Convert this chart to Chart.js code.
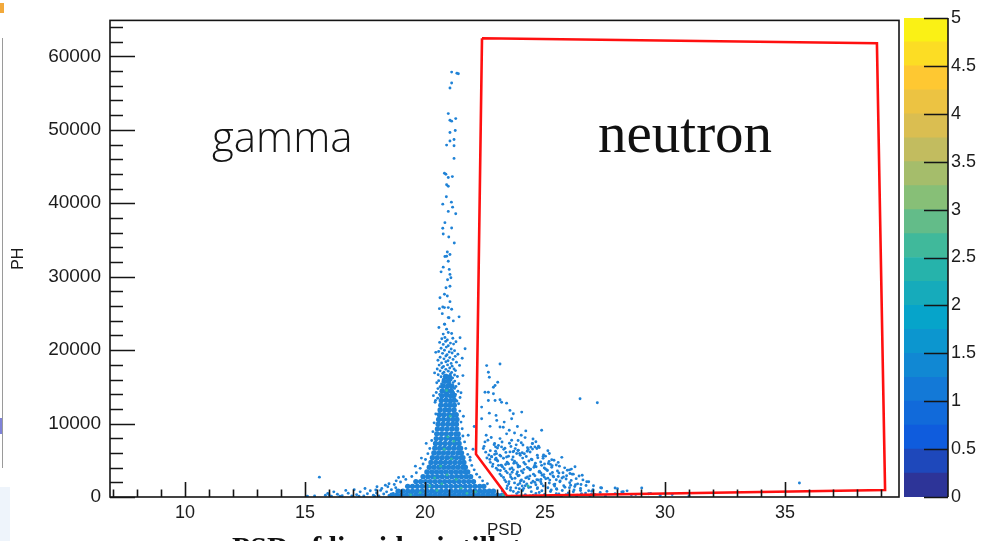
<!DOCTYPE html>
<html><head><meta charset="utf-8">
<script src="https://cdn.jsdelivr.net/npm/chart.js@4.4.1/dist/chart.umd.min.js"></script>
<style>
html,body{margin:0;padding:0;background:#fff;}
#wrap{position:relative;width:984px;height:541px;overflow:hidden;background:#fff;}
canvas{position:absolute;top:0;}
#main{left:0;}
#pal{left:900px;}
.lbl{position:absolute;white-space:nowrap;line-height:1;color:#111;}
#gamma{left:212px;top:115px;font-family:"Open Sans",sans-serif;font-weight:300;font-size:42px;color:#151515;}
#neutron{left:598px;top:104px;font-family:"Liberation Serif",serif;font-size:57px;}
#caption{left:232px;top:532px;font-family:"Liberation Serif",serif;font-weight:bold;font-size:30px;}
.art{position:absolute;}
</style></head><body>
<div id="wrap">
<canvas id="main" width="984" height="541"></canvas>
<canvas id="pal" width="84" height="541"></canvas>
<div class="lbl" id="gamma">gamma</div>
<div class="lbl" id="neutron">neutron</div>
<div class="lbl" id="caption">PSD of liquid scintillator</div>
<div class="art" style="left:0;top:38px;width:2px;height:430px;border-right:1px solid #9a9a9a;"></div>
<div class="art" style="left:0;top:418px;width:2px;height:16px;background:#7f82d8;"></div>
<div class="art" style="left:0;top:3px;width:4px;height:10px;background:#f2a93b;"></div>
<div class="art" style="left:0;top:487px;width:10px;height:54px;background:#eef4fb;"></div>
</div>
<script>
// ---------------- data ----------------
const xTickLabels = [10, 15, 20, 25, 30, 35];
const yTickLabels = [0, 10000, 20000, 30000, 40000, 50000, 60000];
const colorTickLabels = [0, 0.5, 1, 1.5, 2, 2.5, 3, 3.5, 4, 4.5, 5];

// neutron selection cut (red polygon)
const cutX = [22.375, 38.83, 39.17, 23.42, 22.125, 22.375];
const cutY = [62470, 61790, 950, 135, 5830, 62470];

// gamma band, upper tail
const gammaTail = [
[21.11,57860],[21.39,57630],[21.33,57700],[21.11,56370],[21.04,55690],
[20.97,52210],[21.04,51310],[21.11,51180],[21.28,51530],[21.04,49630],[21.26,49910],
[20.90,47920],[21.04,48470],[21.21,48690],[21.21,47830],[21.21,46110],
[20.81,44080],[20.87,43950],[20.97,43500],[21.14,43630],
[20.90,42510],[20.97,42320],[20.89,40880],[20.74,39880],[21.10,40150],[21.15,39470],[20.97,38890],[21.28,38580],
[20.83,37360],[20.74,36590],[21.11,36630],[20.76,35810],[20.99,35410],[21.22,34590],[20.93,33370],[20.83,32750],
[21.04,33020],[20.97,32110],[20.76,31300],[20.67,30660],[21.01,30990],[20.94,29580],[21.08,29850],[20.875,28500],
[20.625,27140],[20.81,27600],[20.93,27370],[21.04,26600],[20.60,25650],[20.81,25790],[20.97,25790],[21.11,25570],
[20.72,24970],[20.97,24430],[21.18,23980],[21.42,24530],[20.58,23080],[20.81,23540],[20.90,22860],[20.76,22180],
[20.97,22400],[21.11,22260],[20.83,21720],[21.04,28700],[20.90,32790],[21.04,30310],[20.74,25880],[21.00,24400],[20.82,23530]
];

// gamma band, middle part
const gammaMid = [
[20.70,21550],[20.93,21380],[21.16,21620],
[20.61,21050],[20.86,21190],[21.06,20960],[21.29,21140],
[20.76,20780],[20.97,20590],[21.19,20820],
[20.67,20250],[20.89,20410],[21.09,20160],
[20.57,19820],[20.81,19990],[21.01,19760],[21.23,19930],
[20.73,19560],[20.92,19380],[21.13,19610],[21.37,19440],
[20.63,19040],[20.87,19210],[21.03,18980],[21.26,19150],
[20.54,18620],[20.79,18810],[20.96,18560],[21.17,18740],
[20.69,18240],[20.87,18420],[21.09,18190],[21.31,18360],
[20.59,17960],[20.77,17780],[20.94,17990],[21.13,17820],[21.44,17920],
[20.51,17440],[20.71,17610],[20.87,17380],[21.03,17560],[21.21,17420],
[20.63,17180],[20.79,16990],[20.97,17140],[21.11,16960],[21.27,17210],
[20.55,16640],[20.74,16810],[20.89,16590],[21.06,16760],[21.23,16620],
[20.67,16380],[20.83,16190],[21.01,16340],[21.15,16220],[21.35,16410],
[20.57,15840],[20.76,16010],[20.91,15820],[21.09,15970],[21.24,15780],
[20.49,15560],[20.69,15390],[20.85,15610],[21.03,15440],[21.17,15580],[21.41,15420],
[20.63,15020],[20.79,15180],[20.97,14990],[21.13,15160],[21.29,15040],
[20.54,14760],[20.73,14620],[20.89,14810],[21.07,14640],[21.23,14790],
[20.47,14240],[20.67,14380],[20.83,14210],[21.01,14360],[21.19,14230],[21.37,14400],
[20.61,13960],[20.77,13820],[20.95,13990],[21.11,13840],[21.27,13970],
[20.53,13440],[20.71,13590],[20.87,13420],[21.05,13570],[21.21,13460],[21.46,13540],
[20.44,13160],[20.65,13040],[20.81,13190],[20.99,13060],[21.15,13200],[21.33,13080]
];

// gamma band, dense core (merged marks)
const gammaCore = [
[20.86,16400],[21.02,16350],
[20.80,15750],[20.98,15800],
[20.75,15100],[20.95,15150],[21.12,15080],
[20.72,14450],[20.92,14500],[21.10,14420],
[20.70,13800],[20.90,13850],[21.08,13780],[21.20,13820],
[20.68,13150],[20.88,13180],[21.06,13120],[21.22,13160],
[20.66,12500],[20.86,12500],[21.04,12500],[21.22,12500],
[20.63,11850],[20.83,11850],[21.01,11850],[21.21,11850],
[20.60,11200],[20.79,11200],[20.99,11200],[21.19,11200],[21.30,11200],
[20.57,10550],[20.77,10550],[20.97,10550],[21.17,10550],[21.33,10550],
[20.55,9900],[20.75,9900],[20.95,9900],[21.15,9900],[21.31,9900],
[20.52,9250],[20.72,9250],[20.92,9250],[21.12,9250],[21.32,9250],
[20.49,8600],[20.69,8600],[20.89,8600],[21.09,8600],[21.29,8600],[21.38,8600],
[20.47,7950],[20.67,7950],[20.87,7950],[21.07,7950],[21.27,7950],[21.40,7950],
[20.44,7300],[20.64,7300],[20.84,7300],[21.04,7300],[21.24,7300],[21.42,7300],
[20.41,6650],[20.61,6650],[20.81,6650],[21.01,6650],[21.21,6650],[21.41,6650],[21.48,6650],
[20.37,6000],[20.57,6000],[20.77,6000],[20.97,6000],[21.17,6000],[21.37,6000],[21.52,6000],
[20.31,5350],[20.51,5350],[20.71,5350],[20.91,5350],[21.11,5350],[21.31,5350],[21.51,5350],[21.58,5350],
[20.25,4700],[20.45,4700],[20.65,4700],[20.85,4700],[21.05,4700],[21.25,4700],[21.45,4700],[21.62,4700],
[20.18,4050],[20.38,4050],[20.58,4050],[20.78,4050],[20.98,4050],[21.18,4050],[21.38,4050],[21.58,4050],[21.68,4050],
[20.08,3400],[20.28,3400],[20.48,3400],[20.68,3400],[20.88,3400],[21.08,3400],[21.28,3400],[21.48,3400],[21.68,3400],[21.78,3400],
[19.92,2750],[20.12,2750],[20.32,2750],[20.52,2750],[20.72,2750],[20.92,2750],[21.12,2750],[21.32,2750],[21.52,2750],[21.72,2750],[21.90,2750],
[19.62,2100],[19.82,2100],[20.02,2100],[20.22,2100],[20.42,2100],[20.62,2100],[20.82,2100],[21.02,2100],[21.22,2100],[21.42,2100],[21.62,2100],[21.82,2100],[22.02,2100],
[19.28,1450],[19.48,1450],[19.68,1450],[19.88,1450],[20.08,1450],[20.28,1450],[20.48,1450],[20.68,1450],[20.88,1450],[21.08,1450],[21.28,1450],[21.48,1450],[21.68,1450],[21.88,1450],[22.08,1450],[22.28,1450],[22.45,1450],
[18.88,800],[19.08,800],[19.28,800],[19.48,800],[19.68,800],[19.88,800],[20.08,800],[20.28,800],[20.48,800],[20.68,800],[20.88,800],[21.08,800],[21.28,800],[21.48,800],[21.68,800],[21.88,800],[22.08,800],[22.28,800],[22.48,800],[22.68,800],[22.85,800],
[18.62,250],[18.82,250],[19.02,250],[19.22,250],[19.42,250],[19.62,250],[19.82,250],[20.02,250],[20.22,250],[20.42,250],[20.62,250],[20.82,250],[21.02,250],[21.22,250],[21.42,250],[21.62,250],[21.82,250],[22.02,250],[22.22,250],[22.42,250],[22.62,250],[22.82,250],[23.02,250],[23.22,250]
];

// scattered points around the gamma core
const gammaFringe = [
[20.42,12900],[20.45,11300],[20.38,10100],[20.33,8900],[20.28,7700],[20.20,6600],[20.12,5900],[20.02,5100],
[19.92,4500],[19.80,3900],[19.64,3300],[19.45,2800],[19.20,2400],[18.98,2050],[18.72,1700],[18.45,1400],
[18.20,1150],[17.95,950],[20.05,7300],[19.85,5300],[19.60,4200],[18.90,2650],[19.10,2750],
[21.40,12700],[21.45,11700],[21.50,10200],[21.55,9300],[21.58,8300],[21.65,7500],[21.70,6600],[21.78,5800],
[21.88,5000],[21.95,4300],[22.05,3700],[22.15,3100],[22.28,2700],[22.40,2200],[22.60,1800],[21.875,5420],
[22.00,6500],[21.80,8400],[21.60,11000],[21.58,16530],[21.67,20190],[21.46,21680],[21.50,14200],[20.35,13800],
[20.40,16900],[20.45,19700],[21.55,18900],[22.05,9600]
];

// low-PSD baseline
const baselineLeft = [
[15.10,120],[15.40,150],[15.60,2700],[15.85,250],[16.10,120],[16.35,380],[16.55,180],[16.80,520],[16.95,150],
[17.15,320],[17.30,700],[17.45,150],[17.60,450],[17.72,850],[17.85,250],[17.98,550],[18.08,150],[18.15,900],
[18.28,400],[18.40,700],[18.50,200],[18.60,1000],[18.68,480],[18.78,1250],[16.20,700],[16.70,900],[17.05,1000],
[17.50,1150],[18.00,1400],[18.35,1600],[15.95,500],[16.45,120],[17.25,120],[17.90,100],[18.50,1800],[18.80,2200],[16.00,300]
];

// neutron band
const neutronUpper = [
[22.57,17890],[23.125,18110],[22.64,16980],[22.68,16300],[22.92,15180],[23.03,15620],[22.64,14270],[22.85,14050],
[23.125,13240],[23.19,12910],[23.40,12780],[22.36,12240],[22.64,13140],[22.92,13140],[22.68,11420],[22.96,11110],
[22.99,10430],[23.54,11790],[23.68,11340],[24.03,11560],[23.61,10660],[22.36,10660],[22.71,9620],[23.125,9530],
[23.51,9080],[24.86,9080],[26.46,13370],[27.18,12830],[23.125,7950],[23.40,8600],[23.61,7720],[24.17,8090],
[23.19,6820],[22.43,6600],[22.78,5460],[23.54,6140],[23.89,6370],[24.30,6460],[24.58,6820],[24.76,6730],
[25.18,5920],[25.375,5010],[25.14,4560],[26.04,3210],[26.74,2070],[22.85,14950],[22.50,14270],[23.26,9500],
[23.73,8710],[24.01,8400],[24.48,7280],[22.94,6830],[23.67,6150],[23.94,5920],[24.66,6600],[24.94,5740],
[23.30,10200],[22.55,8400],[23.85,9600],[24.20,9000],[24.50,7900],[22.90,7300],[23.80,7100],[25.60,4200],
[26.10,3800],[25.90,2900],[26.30,2500],[25.70,5400],[26.50,1700],[27.00,1000]
];
const neutronDense = [
[22.62,7720],[23.21,7480],[23.88,7690],[24.62,7530],
[22.88,7130],[23.52,7310],[24.08,7090],[24.47,7270],
[22.46,6900],[23.02,6680],[23.58,6870],[24.27,6720],[24.73,6910],
[22.72,6310],[23.28,6490],[23.87,6340],[24.48,6520],[25.12,6300],
[22.53,6110],[22.98,5900],[23.37,6070],[23.82,5930],[24.38,6120],[24.05,6030],
[22.77,5520],[23.12,5700],[23.48,5540],[23.97,5680],[24.22,5510],[24.68,5690],[25.02,5560],
[22.58,5320],[22.93,5110],[23.27,5280],[23.63,5090],[24.07,5300],[24.43,5140],[24.92,5260],[25.28,5080],
[22.72,4720],[23.03,4900],[23.42,4740],[23.73,4880],[24.12,4700],[24.33,4910],[24.82,4760],[25.17,4850],
[22.83,4480],[23.17,4320],[23.48,4510],[23.87,4350],[24.18,4470],[24.57,4300],[24.98,4490],[25.47,4360],
[22.97,3920],[23.23,4100],[23.62,3950],[23.88,4080],[24.32,3910],[24.63,4110],[24.97,3940],[25.28,4060],[25.82,3970],
[23.03,3680],[23.37,3520],[23.68,3700],[24.02,3540],[24.38,3690],[24.77,3510],[25.08,3670],[25.52,3550],[26.02,3690],
[23.12,3120],[23.43,3290],[23.82,3140],[24.08,3300],[24.52,3110],[24.83,3280],[25.22,3130],[25.58,3260],[26.18,3110],
[23.18,2890],[23.57,2720],[23.88,2870],[24.27,2730],[24.58,2900],[24.97,2710],[25.33,2880],[25.77,2740],[26.42,2860],
[23.32,2330],[23.63,2480],[24.02,2310],[24.33,2470],[24.72,2320],[25.03,2490],[25.47,2350],[25.88,2460],[26.58,2330],
[23.37,2080],[23.73,1920],[24.12,2070],[24.43,1930],[24.82,2090],[25.18,1910],[25.62,2060],[26.03,1940],[26.82,2080],
[23.43,1520],[23.87,1680],[24.18,1530],[24.62,1670],[24.93,1510],[25.37,1690],[25.78,1540],[26.27,1660],[27.02,1530],
[23.57,1270],[23.93,1130],[24.32,1280],[24.68,1140],[25.12,1260],[25.48,1120],[26.02,1270],[26.48,1150],[27.32,1260],[28.02,1140],
[23.68,740],[24.07,870],[24.43,730],[24.87,860],[25.23,750],[25.72,880],[26.18,720],[26.82,850],[27.58,760],[28.42,840],
[23.82,460],[24.18,330],[24.62,470],[24.98,340],[25.47,450],[25.88,320],[26.52,460],[27.08,350],[27.92,440],[28.78,330],[29.32,450],
[23.62,120],[24.02,60],[24.38,140],[24.82,80],[25.22,130],[25.68,70],[26.32,120],[26.88,60],[27.52,110],
[23.00,5000],[23.45,4600],[23.95,4150],[24.40,3800],[24.75,3400],[23.30,3850],[23.55,3050],[24.20,2600],[24.50,2150],
[23.75,2550],[24.85,1800],[23.95,1850],[24.40,1350],[25.20,2300],[25.55,2800],[23.20,4250],[23.70,4600],[24.60,4600],
[25.10,3600],[25.40,1500],[24.05,950],[23.85,3400],[24.95,3050],[23.50,2100],[25.75,3300],[25.30,4250],[24.70,5350],
[23.40,5450],[22.90,5800],[23.70,6250],
[22.70,5120],[23.36,4430],[24.12,3760],[24.88,2970],[25.63,2170],[26.24,1440],
[22.96,5290],[23.81,4640],[24.54,4060],[25.31,3340],[26.09,2260],[26.71,1560],
[23.14,3610],[23.92,2940],[24.66,2340],[25.41,1760],[26.21,960],[26.93,360],
[23.49,1810],[24.11,1160],[24.76,610],[25.58,410],[26.34,260],[26.69,530],
[23.89,660],[24.51,260],[25.26,960],[25.97,560],[23.56,910],[24.24,1790],
[23.06,4310],[23.54,3810],[24.26,4040],[24.86,4310],[23.16,5560],[24.26,6240],
[22.66,5710],[23.06,7010],[24.41,6790],[22.76,8110],[24.01,7390],[23.76,6590],
[23.27,2650],[23.98,2180],[24.69,1270],[25.12,2570],[25.83,1330],[26.48,890],
[22.81,4170],[23.63,3370],[24.37,2860],[25.02,3820],[25.71,2590],[26.36,1790],
[23.41,1150],[24.05,1500],[24.83,2390],[25.49,1050],[26.07,1600],[26.95,780],
[22.94,6240],[23.67,5460],[24.46,5070],[25.23,4440],[25.93,3640],[26.55,2960],
[23.22,840],[23.79,1240],[24.58,1990],[25.36,2740],[26.13,3110],[27.30,620],
[23.33,6640],[24.14,5880],[24.92,5530],[25.55,4710],[26.25,4120],[22.50,7500]
];
const farTail = [
[27.36,1220],[27.92,1220],[28.20,680],[28.26,720],[28.60,300],[29.03,1220],[29.40,500],[29.80,200],[30.30,350],[31.00,150],[35.60,1900]
];
// bins with 2-3 counts
const doubleBins = [
[20.92,3000],[21.10,5200],[20.70,1800],[21.30,2400],[20.50,900],[20.95,8200],[21.05,11000],[20.80,6500],[21.50,1200],
[20.20,1500],[22.10,700],[19.80,600],[20.65,4200],[21.20,7600],[23.25,300],[24.30,1500],[20.40,2600],[21.75,500],[19.40,300],[20.90,14500]
];

// colour palette (ROOT "bird") stops and z range
const birdStops = [0.0, 0.125, 0.25, 0.375, 0.5, 0.625, 0.75, 0.875, 1.0];
const birdR = [0.2082, 0.0592, 0.0780, 0.0232, 0.1802, 0.5301, 0.8186, 0.9956, 0.9764];
const birdG = [0.1664, 0.3599, 0.5041, 0.6419, 0.7178, 0.7492, 0.7328, 0.7862, 0.9832];
const birdB = [0.5293, 0.8684, 0.8385, 0.7914, 0.6425, 0.4662, 0.3499, 0.1968, 0.0539];
const zLevels = [0,0.25,0.5,0.75,1,1.25,1.5,1.75,2,2.25,2.5,2.75,3,3.25,3.5,3.75,4,4.25,4.5,4.75,5];

// ---------------- helpers ----------------
function bird(t){
  let i = 0;
  while (i < birdStops.length - 2 && t > birdStops[i+1]) i++;
  const f = (t - birdStops[i]) / (birdStops[i+1] - birdStops[i]);
  const c = a => Math.round(255 * (a[i] + (a[i+1]-a[i]) * f));
  return `rgb(${c(birdR)},${c(birdG)},${c(birdB)})`;
}
const pts = arr => arr.map(p => ({x:p[0], y:p[1]}));
const FONT = '"Liberation Sans", Arial, Helvetica, sans-serif';
const TXT = '#1c1c1c';
const dotColor = '#1f82d6';

// ---------------- main chart ----------------
const rootFrame = {
  id:'rootFrame',
  afterDatasetsDraw(chart){
    const {ctx, chartArea:a, scales:{x, y}} = chart;
    ctx.save();
    ctx.strokeStyle = '#151515';
    ctx.lineWidth = 1.6;
    ctx.strokeRect(a.left, a.top, a.right - a.left, a.bottom - a.top);
    ctx.beginPath();
    for (let v = Math.ceil(x.min); v <= x.max; v += 1) {
      const px = Math.round(x.getPixelForValue(v)) + 0.5;
      const len = xTickLabels.includes(v) ? 15 : 7.5;
      ctx.moveTo(px, a.bottom); ctx.lineTo(px, a.bottom - len);
    }
    for (let v = 0; v <= y.max; v += 2000) {
      const py = Math.round(y.getPixelForValue(v)) + 0.5;
      const len = yTickLabels.includes(v) ? 25 : 13;
      ctx.moveTo(a.left, py); ctx.lineTo(a.left + len, py);
    }
    ctx.stroke();
    ctx.restore();
  }
};

new Chart(document.getElementById('main'), {
  type:'scatter',
  data:{datasets:[
    {label:'cut', data: cutX.map((v,i)=>({x:v, y:cutY[i]})), showLine:true, borderColor:'#ff1010', borderWidth:2.6, pointRadius:0, fill:false, tension:0},
    {label:'z2', data: pts(doubleBins), pointRadius:1.4, pointBorderWidth:0, backgroundColor:bird(0.5)},
    {label:'z1', data: pts([].concat(gammaTail, gammaMid, gammaFringe, baselineLeft, neutronUpper, neutronDense, farTail)), pointRadius:1.45, pointBorderWidth:0, backgroundColor:dotColor},
    {label:'core', data: pts(gammaCore), pointRadius:2.7, pointBorderWidth:0, backgroundColor:dotColor}
  ]},
  options:{
    responsive:false, animation:false, devicePixelRatio:1,
    layout:{padding:{left:0, top:18, right:85, bottom:0}},
    plugins:{legend:{display:false}, tooltip:{enabled:false}},
    scales:{
      x:{type:'linear', min:6.875, max:39.75,
         afterFit(s){ s.height = 44; },
         afterBuildTicks(s){ s.ticks = xTickLabels.map(v => ({value:v})); },
         ticks:{autoSkip:false, padding:5, color:TXT, font:{family:FONT, size:18}, maxRotation:0, callback:v => String(v)},
         grid:{display:false, drawTicks:false}, border:{display:false},
         title:{display:true, text:'PSD', color:TXT, font:{family:FONT, size:17}, padding:{top:0, bottom:0}}},
      y:{type:'linear', min:0, max:64900,
         afterFit(s){ s.width = 110; },
         afterBuildTicks(s){ s.ticks = yTickLabels.map(v => ({value:v})); },
         ticks:{autoSkip:false, padding:9, color:TXT, font:{family:FONT, size:19}, callback:v => String(v)},
         grid:{display:false, drawTicks:false}, border:{display:false},
         title:{display:true, text:'PH', color:TXT, font:{family:FONT, size:16}, padding:{top:9, bottom:0}}}
    }
  },
  plugins:[rootFrame]
});

// ---------------- colour bar ----------------
const palTicks = {
  id:'palTicks',
  afterDraw(chart){
    const {ctx, chartArea:a, scales:{y}} = chart;
    ctx.save();
    ctx.strokeStyle = '#151515'; ctx.lineWidth = 1.6;
    ctx.beginPath();
    colorTickLabels.forEach(v => {
      const py = Math.round(y.getPixelForValue(v)) + 0.5;
      ctx.moveTo(a.right, py); ctx.lineTo(a.right - 24, py);
    });
    ctx.moveTo(a.right, a.top); ctx.lineTo(a.right, a.bottom);
    ctx.stroke();
    ctx.restore();
  }
};
const bands = zLevels.slice(0, -1).map((lo, i) => ({
  data:[zLevels[i+1] - lo],
  backgroundColor: bird(((lo + zLevels[i+1]) / 2) / 5),
  borderWidth:0, barPercentage:1, categoryPercentage:1
}));
new Chart(document.getElementById('pal'), {
  type:'bar',
  data:{labels:[''], datasets:bands},
  options:{
    responsive:false, animation:false, devicePixelRatio:1,
    layout:{padding:{left:4, top:18, right:0, bottom:44}},
    plugins:{legend:{display:false}, tooltip:{enabled:false}},
    scales:{
      x:{display:false, stacked:true},
      y:{stacked:true, position:'right', min:0, max:5,
         afterFit(s){ s.width = 36; },
         afterBuildTicks(s){ s.ticks = colorTickLabels.map(v => ({value:v})); },
         ticks:{autoSkip:false, padding:3, color:TXT, font:{family:FONT, size:18}, callback:v => String(v)},
         grid:{display:false, drawTicks:false}, border:{display:false}}
    }
  },
  plugins:[palTicks]
});
</script>
</body></html>
